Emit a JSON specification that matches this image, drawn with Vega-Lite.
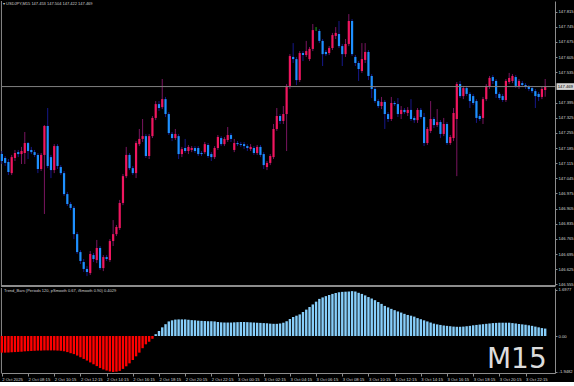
{
  "$schema": "https://vega.github.io/schema/vega-lite/v6.json",
  "background": "#000000",
  "padding": 0,
  "spacing": 2,
  "bounds": "flush",
  "config": {
    "view": {"stroke": null},
    "axis": {"grid": false, "labelFont": "Liberation Sans", "labelFontSize": 4.2, "labelColor": "#d6d6d6", "domainColor": "#8c8c8c", "tickColor": "#8c8c8c", "tickSize": 2, "labelPadding": 1},
    "text": {"font": "Liberation Sans"}
  },
  "datasets": {
    "bars": [
      {"time":"2025-10-02T06:15","open":147.157,"high":147.171,"low":147.111,"close":147.125,"trend":-0.90},
      {"time":"2025-10-02T06:30","open":147.139,"high":147.148,"low":147.102,"close":147.116,"trend":-0.90},
      {"time":"2025-10-02T06:45","open":147.120,"high":147.134,"low":147.060,"close":147.074,"trend":-0.89},
      {"time":"2025-10-02T07:00","open":147.069,"high":147.153,"low":147.060,"close":147.143,"trend":-0.88},
      {"time":"2025-10-02T07:15","open":147.139,"high":147.176,"low":147.125,"close":147.162,"trend":-0.87},
      {"time":"2025-10-02T07:30","open":147.166,"high":147.176,"low":147.143,"close":147.157,"trend":-0.86},
      {"time":"2025-10-02T07:45","open":147.157,"high":147.190,"low":147.111,"close":147.171,"trend":-0.85},
      {"time":"2025-10-02T08:00","open":147.162,"high":147.259,"low":147.111,"close":147.208,"trend":-0.83},
      {"time":"2025-10-02T08:15","open":147.208,"high":147.213,"low":147.134,"close":147.171,"trend":-0.82},
      {"time":"2025-10-02T08:30","open":147.176,"high":147.190,"low":147.157,"close":147.166,"trend":-0.81},
      {"time":"2025-10-02T08:45","open":147.166,"high":147.176,"low":147.143,"close":147.153,"trend":-0.80},
      {"time":"2025-10-02T09:00","open":147.153,"high":147.162,"low":147.069,"close":147.088,"trend":-0.79},
      {"time":"2025-10-02T09:15","open":147.088,"high":147.162,"low":147.079,"close":147.153,"trend":-0.79},
      {"time":"2025-10-02T09:30","open":147.153,"high":147.291,"low":146.880,"close":147.287,"trend":-0.78},
      {"time":"2025-10-02T09:45","open":147.287,"high":147.370,"low":147.092,"close":147.102,"trend":-0.78},
      {"time":"2025-10-02T10:00","open":147.143,"high":147.153,"low":147.046,"close":147.083,"trend":-0.78},
      {"time":"2025-10-02T10:15","open":147.083,"high":147.203,"low":147.069,"close":147.194,"trend":-0.78},
      {"time":"2025-10-02T10:30","open":147.194,"high":147.203,"low":147.088,"close":147.102,"trend":-0.79},
      {"time":"2025-10-02T10:45","open":147.097,"high":147.106,"low":147.060,"close":147.069,"trend":-0.80},
      {"time":"2025-10-02T11:00","open":147.069,"high":147.079,"low":146.963,"close":146.972,"trend":-0.83},
      {"time":"2025-10-02T11:15","open":146.972,"high":146.982,"low":146.917,"close":146.926,"trend":-0.87},
      {"time":"2025-10-02T11:30","open":146.926,"high":146.935,"low":146.898,"close":146.908,"trend":-0.93},
      {"time":"2025-10-02T11:45","open":146.908,"high":146.917,"low":146.764,"close":146.787,"trend":-0.98},
      {"time":"2025-10-02T12:00","open":146.787,"high":146.797,"low":146.695,"close":146.704,"trend":-1.06},
      {"time":"2025-10-02T12:15","open":146.704,"high":146.713,"low":146.649,"close":146.663,"trend":-1.15},
      {"time":"2025-10-02T12:30","open":146.658,"high":146.672,"low":146.612,"close":146.626,"trend":-1.24},
      {"time":"2025-10-02T12:45","open":146.626,"high":146.639,"low":146.593,"close":146.612,"trend":-1.33},
      {"time":"2025-10-02T13:00","open":146.607,"high":146.709,"low":146.598,"close":146.695,"trend":-1.43},
      {"time":"2025-10-02T13:15","open":146.690,"high":146.700,"low":146.658,"close":146.672,"trend":-1.53},
      {"time":"2025-10-02T13:30","open":146.667,"high":146.760,"low":146.653,"close":146.723,"trend":-1.63},
      {"time":"2025-10-02T13:45","open":146.723,"high":146.732,"low":146.621,"close":146.630,"trend":-1.73},
      {"time":"2025-10-02T14:00","open":146.630,"high":146.690,"low":146.616,"close":146.681,"trend":-1.81},
      {"time":"2025-10-02T14:15","open":146.681,"high":146.690,"low":146.663,"close":146.672,"trend":-1.87},
      {"time":"2025-10-02T14:30","open":146.667,"high":146.764,"low":146.658,"close":146.755,"trend":-1.92},
      {"time":"2025-10-02T14:45","open":146.755,"high":146.852,"low":146.732,"close":146.787,"trend":-1.9482},
      {"time":"2025-10-02T15:00","open":146.787,"high":146.829,"low":146.778,"close":146.820,"trend":-1.93},
      {"time":"2025-10-02T15:15","open":146.815,"high":146.945,"low":146.806,"close":146.931,"trend":-1.89},
      {"time":"2025-10-02T15:30","open":146.931,"high":147.065,"low":146.921,"close":147.055,"trend":-1.78},
      {"time":"2025-10-02T15:45","open":147.055,"high":147.190,"low":147.046,"close":147.153,"trend":-1.64},
      {"time":"2025-10-02T16:00","open":147.153,"high":147.162,"low":147.083,"close":147.092,"trend":-1.48},
      {"time":"2025-10-02T16:15","open":147.092,"high":147.102,"low":147.060,"close":147.069,"trend":-1.30},
      {"time":"2025-10-02T16:30","open":147.069,"high":147.217,"low":147.046,"close":147.208,"trend":-1.10},
      {"time":"2025-10-02T16:45","open":147.203,"high":147.273,"low":147.194,"close":147.227,"trend":-0.90},
      {"time":"2025-10-02T17:00","open":147.227,"high":147.319,"low":147.213,"close":147.240,"trend":-0.66},
      {"time":"2025-10-02T17:15","open":147.240,"high":147.250,"low":147.139,"close":147.148,"trend":-0.45},
      {"time":"2025-10-02T17:30","open":147.148,"high":147.250,"low":147.134,"close":147.240,"trend":-0.31},
      {"time":"2025-10-02T17:45","open":147.240,"high":147.333,"low":147.231,"close":147.324,"trend":-0.15},
      {"time":"2025-10-02T18:00","open":147.324,"high":147.402,"low":147.314,"close":147.388,"trend":0.10},
      {"time":"2025-10-02T18:15","open":147.388,"high":147.402,"low":147.356,"close":147.370,"trend":0.27},
      {"time":"2025-10-02T18:30","open":147.374,"high":147.504,"low":147.365,"close":147.411,"trend":0.47},
      {"time":"2025-10-02T18:45","open":147.411,"high":147.421,"low":147.328,"close":147.342,"trend":0.64},
      {"time":"2025-10-02T19:00","open":147.342,"high":147.351,"low":147.245,"close":147.254,"trend":0.79},
      {"time":"2025-10-02T19:15","open":147.250,"high":147.259,"low":147.217,"close":147.231,"trend":0.85},
      {"time":"2025-10-02T19:30","open":147.231,"high":147.273,"low":147.222,"close":147.250,"trend":0.89},
      {"time":"2025-10-02T19:45","open":147.240,"high":147.250,"low":147.134,"close":147.157,"trend":0.90},
      {"time":"2025-10-02T20:00","open":147.157,"high":147.190,"low":147.143,"close":147.180,"trend":0.90},
      {"time":"2025-10-02T20:15","open":147.185,"high":147.227,"low":147.162,"close":147.171,"trend":0.90},
      {"time":"2025-10-02T20:30","open":147.171,"high":147.199,"low":147.157,"close":147.190,"trend":0.88},
      {"time":"2025-10-02T20:45","open":147.176,"high":147.194,"low":147.166,"close":147.185,"trend":0.86},
      {"time":"2025-10-02T21:00","open":147.185,"high":147.194,"low":147.162,"close":147.171,"trend":0.85},
      {"time":"2025-10-02T21:15","open":147.185,"high":147.194,"low":147.148,"close":147.157,"trend":0.83},
      {"time":"2025-10-02T21:30","open":147.162,"high":147.171,"low":147.148,"close":147.157,"trend":0.82},
      {"time":"2025-10-02T21:45","open":147.166,"high":147.213,"low":147.157,"close":147.203,"trend":0.81},
      {"time":"2025-10-02T22:00","open":147.199,"high":147.208,"low":147.139,"close":147.148,"trend":0.80},
      {"time":"2025-10-02T22:15","open":147.157,"high":147.166,"low":147.125,"close":147.143,"trend":0.80},
      {"time":"2025-10-02T22:30","open":147.143,"high":147.194,"low":147.134,"close":147.185,"trend":0.79},
      {"time":"2025-10-02T22:45","open":147.185,"high":147.245,"low":147.176,"close":147.236,"trend":0.76},
      {"time":"2025-10-02T23:00","open":147.231,"high":147.240,"low":147.194,"close":147.203,"trend":0.74},
      {"time":"2025-10-02T23:15","open":147.203,"high":147.236,"low":147.194,"close":147.227,"trend":0.73},
      {"time":"2025-10-02T23:30","open":147.222,"high":147.282,"low":147.213,"close":147.245,"trend":0.73},
      {"time":"2025-10-02T23:45","open":147.245,"high":147.254,"low":147.213,"close":147.227,"trend":0.73},
      {"time":"2025-10-03T00:00","open":147.176,"high":147.227,"low":147.166,"close":147.208,"trend":0.74},
      {"time":"2025-10-03T00:15","open":147.208,"high":147.217,"low":147.194,"close":147.203,"trend":0.75},
      {"time":"2025-10-03T00:30","open":147.203,"high":147.213,"low":147.190,"close":147.199,"trend":0.76},
      {"time":"2025-10-03T00:45","open":147.203,"high":147.213,"low":147.180,"close":147.194,"trend":0.76},
      {"time":"2025-10-03T01:00","open":147.194,"high":147.203,"low":147.171,"close":147.185,"trend":0.75},
      {"time":"2025-10-03T01:15","open":147.180,"high":147.203,"low":147.171,"close":147.190,"trend":0.74},
      {"time":"2025-10-03T01:30","open":147.185,"high":147.194,"low":147.153,"close":147.162,"trend":0.73},
      {"time":"2025-10-03T01:45","open":147.162,"high":147.199,"low":147.153,"close":147.190,"trend":0.72},
      {"time":"2025-10-03T02:00","open":147.190,"high":147.199,"low":147.143,"close":147.153,"trend":0.71},
      {"time":"2025-10-03T02:15","open":147.157,"high":147.166,"low":147.088,"close":147.106,"trend":0.70},
      {"time":"2025-10-03T02:30","open":147.097,"high":147.125,"low":147.083,"close":147.116,"trend":0.69},
      {"time":"2025-10-03T02:45","open":147.116,"high":147.157,"low":147.106,"close":147.148,"trend":0.67},
      {"time":"2025-10-03T03:00","open":147.143,"high":147.296,"low":147.134,"close":147.273,"trend":0.66},
      {"time":"2025-10-03T03:15","open":147.273,"high":147.370,"low":147.264,"close":147.333,"trend":0.66},
      {"time":"2025-10-03T03:30","open":147.333,"high":147.342,"low":147.296,"close":147.310,"trend":0.68},
      {"time":"2025-10-03T03:45","open":147.310,"high":147.379,"low":147.296,"close":147.342,"trend":0.72},
      {"time":"2025-10-03T04:00","open":147.342,"high":147.481,"low":147.171,"close":147.472,"trend":0.80},
      {"time":"2025-10-03T04:15","open":147.472,"high":147.619,"low":147.458,"close":147.610,"trend":0.92},
      {"time":"2025-10-03T04:30","open":147.606,"high":147.670,"low":147.578,"close":147.596,"trend":1.03},
      {"time":"2025-10-03T04:45","open":147.596,"high":147.606,"low":147.476,"close":147.499,"trend":1.10},
      {"time":"2025-10-03T05:00","open":147.499,"high":147.633,"low":147.490,"close":147.624,"trend":1.17},
      {"time":"2025-10-03T05:15","open":147.624,"high":147.633,"low":147.587,"close":147.615,"trend":1.30},
      {"time":"2025-10-03T05:30","open":147.615,"high":147.680,"low":147.606,"close":147.633,"trend":1.43},
      {"time":"2025-10-03T05:45","open":147.596,"high":147.652,"low":147.587,"close":147.643,"trend":1.57},
      {"time":"2025-10-03T06:00","open":147.643,"high":147.758,"low":147.633,"close":147.730,"trend":1.71},
      {"time":"2025-10-03T06:15","open":147.735,"high":147.744,"low":147.726,"close":147.735,"trend":1.86},
      {"time":"2025-10-03T06:30","open":147.726,"high":147.735,"low":147.670,"close":147.680,"trend":2.01},
      {"time":"2025-10-03T06:45","open":147.680,"high":147.689,"low":147.564,"close":147.619,"trend":2.09},
      {"time":"2025-10-03T07:00","open":147.629,"high":147.638,"low":147.610,"close":147.619,"trend":2.16},
      {"time":"2025-10-03T07:15","open":147.624,"high":147.656,"low":147.615,"close":147.647,"trend":2.22},
      {"time":"2025-10-03T07:30","open":147.647,"high":147.717,"low":147.638,"close":147.707,"trend":2.28},
      {"time":"2025-10-03T07:45","open":147.703,"high":147.744,"low":147.689,"close":147.717,"trend":2.33},
      {"time":"2025-10-03T08:00","open":147.712,"high":147.772,"low":147.647,"close":147.656,"trend":2.37},
      {"time":"2025-10-03T08:15","open":147.656,"high":147.666,"low":147.564,"close":147.619,"trend":2.39},
      {"time":"2025-10-03T08:30","open":147.619,"high":147.689,"low":147.606,"close":147.666,"trend":2.40},
      {"time":"2025-10-03T08:45","open":147.666,"high":147.804,"low":147.656,"close":147.772,"trend":2.41},
      {"time":"2025-10-03T09:00","open":147.772,"high":147.781,"low":147.610,"close":147.619,"trend":2.43},
      {"time":"2025-10-03T09:15","open":147.606,"high":147.615,"low":147.564,"close":147.578,"trend":2.41},
      {"time":"2025-10-03T09:30","open":147.578,"high":147.587,"low":147.495,"close":147.550,"trend":2.34},
      {"time":"2025-10-03T09:45","open":147.541,"high":147.670,"low":147.532,"close":147.596,"trend":2.28},
      {"time":"2025-10-03T10:00","open":147.592,"high":147.670,"low":147.578,"close":147.629,"trend":2.20},
      {"time":"2025-10-03T10:15","open":147.629,"high":147.638,"low":147.499,"close":147.518,"trend":2.11},
      {"time":"2025-10-03T10:30","open":147.518,"high":147.527,"low":147.416,"close":147.458,"trend":2.03},
      {"time":"2025-10-03T10:45","open":147.458,"high":147.467,"low":147.393,"close":147.402,"trend":1.94},
      {"time":"2025-10-03T11:00","open":147.402,"high":147.411,"low":147.370,"close":147.379,"trend":1.84},
      {"time":"2025-10-03T11:15","open":147.379,"high":147.421,"low":147.365,"close":147.398,"trend":1.74},
      {"time":"2025-10-03T11:30","open":147.398,"high":147.407,"low":147.273,"close":147.342,"trend":1.63},
      {"time":"2025-10-03T11:45","open":147.342,"high":147.351,"low":147.305,"close":147.319,"trend":1.55},
      {"time":"2025-10-03T12:00","open":147.319,"high":147.421,"low":147.310,"close":147.393,"trend":1.47},
      {"time":"2025-10-03T12:15","open":147.393,"high":147.402,"low":147.379,"close":147.388,"trend":1.40},
      {"time":"2025-10-03T12:30","open":147.388,"high":147.416,"low":147.328,"close":147.342,"trend":1.33},
      {"time":"2025-10-03T12:45","open":147.342,"high":147.379,"low":147.319,"close":147.361,"trend":1.27},
      {"time":"2025-10-03T13:00","open":147.361,"high":147.370,"low":147.342,"close":147.351,"trend":1.20},
      {"time":"2025-10-03T13:15","open":147.347,"high":147.374,"low":147.333,"close":147.361,"trend":1.14},
      {"time":"2025-10-03T13:30","open":147.361,"high":147.411,"low":147.310,"close":147.319,"trend":1.10},
      {"time":"2025-10-03T13:45","open":147.324,"high":147.333,"low":147.301,"close":147.314,"trend":1.05},
      {"time":"2025-10-03T14:00","open":147.314,"high":147.370,"low":147.301,"close":147.361,"trend":0.97},
      {"time":"2025-10-03T14:15","open":147.361,"high":147.370,"low":147.319,"close":147.328,"trend":0.91},
      {"time":"2025-10-03T14:30","open":147.328,"high":147.347,"low":147.194,"close":147.208,"trend":0.85},
      {"time":"2025-10-03T14:45","open":147.208,"high":147.282,"low":147.199,"close":147.273,"trend":0.79},
      {"time":"2025-10-03T15:00","open":147.264,"high":147.402,"low":147.254,"close":147.319,"trend":0.73},
      {"time":"2025-10-03T15:15","open":147.319,"high":147.328,"low":147.277,"close":147.291,"trend":0.67},
      {"time":"2025-10-03T15:30","open":147.291,"high":147.365,"low":147.282,"close":147.305,"trend":0.63},
      {"time":"2025-10-03T15:45","open":147.305,"high":147.314,"low":147.231,"close":147.250,"trend":0.60},
      {"time":"2025-10-03T16:00","open":147.250,"high":147.324,"low":147.240,"close":147.296,"trend":0.57},
      {"time":"2025-10-03T16:15","open":147.296,"high":147.305,"low":147.199,"close":147.208,"trend":0.55},
      {"time":"2025-10-03T16:30","open":147.208,"high":147.245,"low":147.199,"close":147.236,"trend":0.53},
      {"time":"2025-10-03T16:45","open":147.231,"high":147.370,"low":147.217,"close":147.347,"trend":0.51},
      {"time":"2025-10-03T17:00","open":147.319,"high":147.490,"low":147.055,"close":147.481,"trend":0.50},
      {"time":"2025-10-03T17:15","open":147.481,"high":147.495,"low":147.416,"close":147.425,"trend":0.50},
      {"time":"2025-10-03T17:30","open":147.425,"high":147.472,"low":147.411,"close":147.462,"trend":0.51},
      {"time":"2025-10-03T17:45","open":147.462,"high":147.472,"low":147.425,"close":147.435,"trend":0.53},
      {"time":"2025-10-03T18:00","open":147.435,"high":147.444,"low":147.370,"close":147.402,"trend":0.55},
      {"time":"2025-10-03T18:15","open":147.425,"high":147.435,"low":147.384,"close":147.393,"trend":0.58},
      {"time":"2025-10-03T18:30","open":147.402,"high":147.411,"low":147.301,"close":147.324,"trend":0.60},
      {"time":"2025-10-03T18:45","open":147.333,"high":147.342,"low":147.310,"close":147.319,"trend":0.62},
      {"time":"2025-10-03T19:00","open":147.324,"high":147.421,"low":147.296,"close":147.411,"trend":0.64},
      {"time":"2025-10-03T19:15","open":147.411,"high":147.481,"low":147.402,"close":147.472,"trend":0.66},
      {"time":"2025-10-03T19:30","open":147.467,"high":147.518,"low":147.458,"close":147.509,"trend":0.68},
      {"time":"2025-10-03T19:45","open":147.513,"high":147.522,"low":147.481,"close":147.495,"trend":0.70},
      {"time":"2025-10-03T20:00","open":147.495,"high":147.504,"low":147.416,"close":147.435,"trend":0.71},
      {"time":"2025-10-03T20:15","open":147.435,"high":147.444,"low":147.407,"close":147.416,"trend":0.72},
      {"time":"2025-10-03T20:30","open":147.425,"high":147.435,"low":147.398,"close":147.407,"trend":0.72},
      {"time":"2025-10-03T20:45","open":147.407,"high":147.504,"low":147.398,"close":147.495,"trend":0.72},
      {"time":"2025-10-03T21:00","open":147.490,"high":147.532,"low":147.481,"close":147.509,"trend":0.72},
      {"time":"2025-10-03T21:15","open":147.495,"high":147.527,"low":147.485,"close":147.518,"trend":0.70},
      {"time":"2025-10-03T21:30","open":147.513,"high":147.522,"low":147.462,"close":147.472,"trend":0.68},
      {"time":"2025-10-03T21:45","open":147.467,"high":147.504,"low":147.458,"close":147.495,"trend":0.65},
      {"time":"2025-10-03T22:00","open":147.485,"high":147.495,"low":147.467,"close":147.476,"trend":0.63},
      {"time":"2025-10-03T22:15","open":147.476,"high":147.485,"low":147.458,"close":147.467,"trend":0.61},
      {"time":"2025-10-03T22:30","open":147.467,"high":147.476,"low":147.448,"close":147.458,"trend":0.58},
      {"time":"2025-10-03T22:45","open":147.462,"high":147.472,"low":147.439,"close":147.448,"trend":0.55},
      {"time":"2025-10-03T23:00","open":147.448,"high":147.458,"low":147.370,"close":147.425,"trend":0.51},
      {"time":"2025-10-03T23:15","open":147.435,"high":147.444,"low":147.402,"close":147.421,"trend":0.47},
      {"time":"2025-10-03T23:30","open":147.421,"high":147.467,"low":147.411,"close":147.458,"trend":0.43},
      {"time":"2025-10-03T23:45","open":147.453,"high":147.504,"low":147.422,"close":147.469,"trend":0.4029}
    ]
  },
  "vconcat": [
    {
      "width": 554,
      "height": 285,
      "layer": [
        {
          "data": {"values": [{"edge": 1}]},
          "mark": {"type": "rule", "color": "#8c8c8c", "strokeWidth": 1},
          "encoding": {"x": {"datum": {"year": 2025, "month": 10, "date": 2, "hours": 6, "minutes": 13}, "type": "temporal", "axis": null,
                  "scale": {"domain": [{"year": 2025, "month": 10, "date": 2, "hours": 6, "minutes": 11}, {"year": 2025, "month": 10, "date": 4, "hours": 0, "minutes": 30}], "padding": 0}}}
        },
        {
          "data": {"name": "bars"},
          "mark": {"type": "rule", "strokeWidth": 1},
          "encoding": {
            "x": {"field": "time", "type": "temporal", "axis": null},
            "y": {"field": "low", "type": "quantitative",
                  "scale": {"domain": [146.5472, 147.8645], "zero": false, "nice": false},
                  "axis": {"orient": "right", "title": null, "tickCount": 50, "values": [146.555, 146.625, 146.695, 146.765, 146.835, 146.905, 146.975, 147.045, 147.115, 147.185, 147.255, 147.325, 147.395, 147.535, 147.605, 147.675, 147.745, 147.815], "format": ".3f", "labelOverlap": false, "labelFlush": false}},
            "y2": {"field": "high"},
            "color": {"condition": [{"test": "datum.close > datum.open", "value": "#7a1560"}, {"test": "datum.close < datum.open", "value": "#16188a"}], "value": "#22aa22"}
          }
        },
        {
          "data": {"name": "bars"},
          "mark": {"type": "bar", "size": 2.2},
          "encoding": {
            "x": {"field": "time", "type": "temporal", "axis": null},
            "y": {"field": "open", "type": "quantitative", "title": null},
            "y2": {"field": "close"},
            "color": {"condition": [{"test": "datum.close > datum.open", "value": "#f0165f"}, {"test": "datum.close < datum.open", "value": "#1e90ff"}], "value": "#22aa22"}
          }
        },
        {
          "data": {"values": [{"price": 147.469}]},
          "mark": {"type": "rule", "color": "#808080", "strokeWidth": 1},
          "encoding": {"y": {"field": "price", "type": "quantitative", "title": null}}
        },
        {
          "data": {"values": [{"price": 147.469, "top": 147.4845, "bottom": 147.4535}]},
          "mark": {"type": "rect", "color": "#d4d4d4"},
          "encoding": {
            "x": {"datum": {"year": 2025, "month": 10, "date": 4, "hours": 0, "minutes": 37}, "type": "temporal", "axis": null},
            "x2": {"datum": {"year": 2025, "month": 10, "date": 4, "hours": 1, "minutes": 58}},
            "y": {"field": "top", "type": "quantitative", "title": null},
            "y2": {"field": "bottom"}
          }
        },
        {
          "data": {"values": [{"price": 147.469, "label": "147.469"}]},
          "mark": {"type": "text", "fontSize": 4.2, "color": "#000000", "align": "left", "baseline": "middle", "dx": 1.2},
          "encoding": {
            "x": {"datum": {"year": 2025, "month": 10, "date": 4, "hours": 0, "minutes": 37}, "type": "temporal", "axis": null},
            "y": {"field": "price", "type": "quantitative", "title": null},
            "text": {"field": "label"}
          }
        },
        {
          "data": {"values": [{"label": "▾ USDJPY,M15  147.453 147.504 147.422 147.469"}]},
          "mark": {"type": "text", "fontSize": 4, "color": "#d0d0d0", "align": "left", "baseline": "top", "dx": 2, "dy": 0.5},
          "encoding": {
            "x": {"datum": {"year": 2025, "month": 10, "date": 2, "hours": 6, "minutes": 11}, "type": "temporal", "axis": null},
            "y": {"datum": 147.8645, "type": "quantitative", "title": null},
            "text": {"field": "label"}
          }
        },
        {
          "data": {"values": [{"edge": 1}]},
          "mark": {"type": "rule", "color": "#8c8c8c", "strokeWidth": 2},
          "encoding": {"y": {"datum": 146.5472, "type": "quantitative", "title": null}}
        }
      ]
    },
    {
      "width": 554,
      "height": 85,
      "layer": [
        {
          "data": {"values": [{"edge": 1}]},
          "mark": {"type": "rule", "color": "#8c8c8c", "strokeWidth": 1},
          "encoding": {"x": {"datum": {"year": 2025, "month": 10, "date": 2, "hours": 6, "minutes": 13}, "type": "temporal", "title": null,
                  "scale": {"domain": [{"year": 2025, "month": 10, "date": 2, "hours": 6, "minutes": 11}, {"year": 2025, "month": 10, "date": 4, "hours": 0, "minutes": 30}], "padding": 0},
                  "axis": {"tickCount": 50, "values": [
                    {"year": 2025, "month": 10, "date": 2, "hours": 6, "minutes": 15},
                    {"year": 2025, "month": 10, "date": 2, "hours": 8, "minutes": 15},
                    {"year": 2025, "month": 10, "date": 2, "hours": 10, "minutes": 15},
                    {"year": 2025, "month": 10, "date": 2, "hours": 12, "minutes": 15},
                    {"year": 2025, "month": 10, "date": 2, "hours": 14, "minutes": 15},
                    {"year": 2025, "month": 10, "date": 2, "hours": 16, "minutes": 15},
                    {"year": 2025, "month": 10, "date": 2, "hours": 18, "minutes": 15},
                    {"year": 2025, "month": 10, "date": 2, "hours": 20, "minutes": 15},
                    {"year": 2025, "month": 10, "date": 2, "hours": 22, "minutes": 15},
                    {"year": 2025, "month": 10, "date": 3, "hours": 0, "minutes": 15},
                    {"year": 2025, "month": 10, "date": 3, "hours": 2, "minutes": 15},
                    {"year": 2025, "month": 10, "date": 3, "hours": 4, "minutes": 15},
                    {"year": 2025, "month": 10, "date": 3, "hours": 6, "minutes": 15},
                    {"year": 2025, "month": 10, "date": 3, "hours": 8, "minutes": 15},
                    {"year": 2025, "month": 10, "date": 3, "hours": 10, "minutes": 15},
                    {"year": 2025, "month": 10, "date": 3, "hours": 12, "minutes": 15},
                    {"year": 2025, "month": 10, "date": 3, "hours": 14, "minutes": 15},
                    {"year": 2025, "month": 10, "date": 3, "hours": 16, "minutes": 15},
                    {"year": 2025, "month": 10, "date": 3, "hours": 18, "minutes": 15},
                    {"year": 2025, "month": 10, "date": 3, "hours": 20, "minutes": 15},
                    {"year": 2025, "month": 10, "date": 3, "hours": 22, "minutes": 15}
                  ],
                  "labelExpr": "datum.value < datetime(2025, 9, 2, 7, 0) ? '2 Oct 2025' : timeFormat(datum.value, '%-d %b %H:%M')",
                  "labelAlign": "left", "labelBaseline": "top", "labelPadding": 1.5, "tickSize": 3, "labelFlush": false, "labelOverlap": false, "labelBound": false}}}
        },
        {
          "data": {"name": "bars"},
          "mark": {"type": "bar", "size": 2.4},
          "encoding": {
            "x": {"field": "time", "type": "temporal", "title": null},
            "y": {"field": "trend", "type": "quantitative", "title": null,
                  "scale": {"domain": [-2.003, 2.6], "nice": false, "zero": true},
                  "axis": {"orient": "right", "tickCount": 10, "values": [2.5, 0, -1.9482], "labelExpr": "datum.value > 1 ? '1.6977' : (datum.value < -1 ? '-1.9482' : '0.00')", "labelFlush": false, "labelOverlap": false}},
            "color": {"condition": {"test": "datum.trend >= 0", "value": "#87cefa"}, "value": "#ff0000"}
          }
        },
        {
          "data": {"values": [{"label": "Trend_Bars (Periods 120, pSmooth 0.67, iSmooth 0.90)   0.4029"}]},
          "mark": {"type": "text", "fontSize": 4, "color": "#d0d0d0", "align": "left", "baseline": "top", "dx": 3, "dy": 1},
          "encoding": {
            "x": {"datum": {"year": 2025, "month": 10, "date": 2, "hours": 6, "minutes": 11}, "type": "temporal", "title": null},
            "y": {"datum": 2.6, "type": "quantitative", "title": null},
            "text": {"field": "label"}
          }
        },
        {
          "data": {"values": [{"label": "M15"}]},
          "mark": {"type": "text", "font": "DejaVu Sans", "fontSize": 28, "color": "#dcdcdc", "align": "right", "baseline": "alphabetic"},
          "encoding": {
            "x": {"datum": {"year": 2025, "month": 10, "date": 3, "hours": 23, "minutes": 52}, "type": "temporal", "title": null},
            "y": {"datum": -1.716, "type": "quantitative", "title": null},
            "text": {"field": "label"}
          }
        }
      ]
    }
  ]
}
